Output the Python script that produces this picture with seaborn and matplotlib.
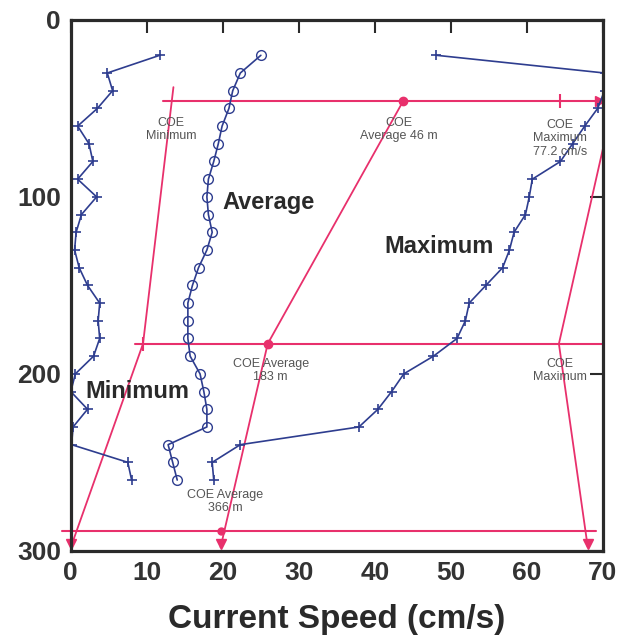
import matplotlib
matplotlib.use("Agg")
import matplotlib.pyplot as plt
import pandas as pd
import seaborn as sns

# depth (m) of each sample, shared by the three profiles
depth = [20, 30, 40, 50, 60, 70, 80, 90, 100, 110, 120, 130, 140, 150,
         160, 170, 180, 190, 200, 210, 220, 230, 240, 250, 260]

speed_min = [11.7, 4.8, 5.5, 3.5, 0.9, 2.4, 2.9, 0.9, 3.4, 1.4, 0.7, 0.5, 1.1, 2.2,
             3.8, 3.6, 3.8, 3.0, 0.6, 0.0, 2.2, 0.3, 0.1, 7.5, 8.0]
speed_avg = [25.0, 22.3, 21.3, 20.8, 19.9, 19.4, 18.8, 18.1, 17.9, 18.1, 18.6, 17.9, 16.8, 16.0,
             15.4, 15.4, 15.4, 15.7, 17.0, 17.5, 17.9, 17.9, 12.8, 13.4, 14.0]
speed_max = [48.1, 70.2, 70.2, 69.3, 67.6, 66.0, 64.4, 60.7, 60.3, 59.8, 58.3, 57.7, 56.8, 54.6,
             52.4, 51.9, 50.8, 47.7, 43.8, 42.2, 40.4, 37.9, 22.3, 18.6, 18.8]

# COE construction lines (speed, depth)
coe_min_x = [13.5, 9.5, 0.0]
coe_min_y = [38, 183, 298]
coe_avg_x = [43.7, 25.9, 19.7]
coe_avg_y = [46, 183, 298]
coe_max_x = [71.4, 64.2, 68.0]
coe_max_y = [46, 183, 298]
coe_depths = [46, 183, 289]

profiles = pd.DataFrame({"depth": depth, "Minimum": speed_min,
                         "Average": speed_avg, "Maximum": speed_max})

sns.set_style("white")
plt.rcParams["font.family"] = ["Liberation Sans", "DejaVu Sans"]

blue = "#2e3d8f"
pink = "#e8306c"
dark = "#2a2a2a"

fig = plt.figure(figsize=(6.21, 6.42), dpi=100)
ax = fig.add_axes([0.114, 0.142, 0.857, 0.827])

# pink COE guides
ax.plot([12.1, 70], [coe_depths[0]] * 2, color=pink, lw=1.5)
ax.plot([8.4, 70], [coe_depths[1]] * 2, color=pink, lw=1.5)
ax.plot([-1.2, 69.1], [coe_depths[2]] * 2, color=pink, lw=1.5, clip_on=False)
for xs, ys in [(coe_min_x, coe_min_y), (coe_avg_x, coe_avg_y), (coe_max_x, coe_max_y)]:
    ax.plot(xs, ys, color=pink, lw=1.3)
    ax.plot(xs[-1], ys[-1] - 2, marker="v", color=pink, ms=7, clip_on=False)
ax.plot(coe_avg_x[:2], coe_avg_y[:2], "o", color=pink, ms=6, lw=0)
ax.plot(coe_avg_x[2] + 0.1, 289, "o", color=pink, ms=5)
ax.plot(69.6, 46, ">", color=pink, ms=7)
ax.plot([64.4, coe_min_x[1]], [46, 183], "|", color=pink, ms=10, mew=1.5)

# the three speed profiles
cross = dict(sort=False, estimator=None, color=blue, lw=1.2, marker="+",
             ms=6.5, mew=1.2, mec=blue, ax=ax)
sns.lineplot(data=profiles, x="Minimum", y="depth", **cross)
sns.lineplot(data=profiles, x="Average", y="depth", sort=False, estimator=None,
             color=blue, lw=1.2, marker="o", ms=7, mfc="none", mec=blue, mew=1.0, ax=ax)
sns.lineplot(data=profiles, x="Maximum", y="depth", **cross)

# small annotations
small = dict(fontsize=9, color="#555555", ha="center", va="center", linespacing=1.15)
ax.text(13.2, 62, "COE\nMinimum", **small)
ax.text(43.2, 62, "COE\nAverage 46 m", **small)
ax.text(64.3, 67, "COE\nMaximum\n77.2 cm/s", **small)
ax.text(26.3, 198, "COE Average\n183 m", **small)
ax.text(64.3, 198, "COE\nMaximum", **small)
ax.text(20.3, 272, "COE Average\n366 m", **small)

big = dict(fontsize=17, fontweight="bold", color=dark, ha="center", va="center")
ax.text(26.0, 103, "Average", **big)
ax.text(48.5, 128, "Maximum", **big)
ax.text(8.8, 210, "Minimum", **big)

ax.set_xlim(0, 70)
ax.set_ylim(300, 0)
ax.set_xticks(range(0, 71, 10))
ax.set_yticks([0, 100, 200, 300])
ax.tick_params(direction="in", length=9.5, width=1.5, color=dark,
               top=True, right=True, labelsize=19, pad=7, labelcolor="#333333")
for lab in ax.get_xticklabels() + ax.get_yticklabels():
    lab.set_fontweight("bold")
for sp in ax.spines.values():
    sp.set_linewidth(2.3)
    sp.set_color(dark)

ax.set_ylabel("")
ax.set_xlabel("Current Speed (cm/s)", fontsize=24, fontweight="bold", color=dark, labelpad=14)

fig.savefig("out.png", dpi=100)
